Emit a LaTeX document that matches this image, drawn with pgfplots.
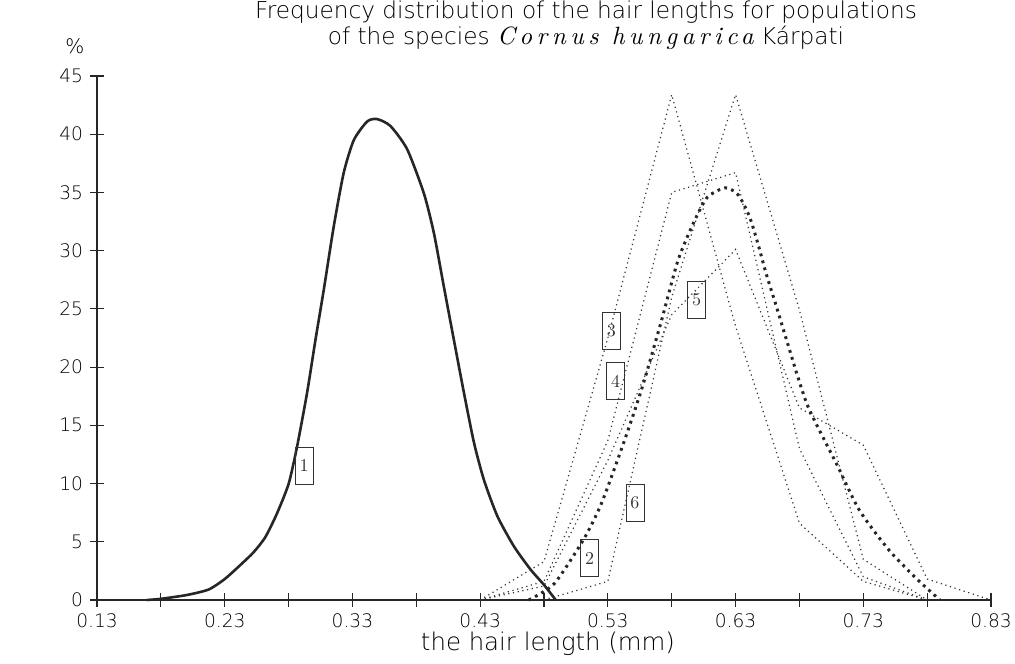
\documentclass[border=0pt]{standalone}
\usepackage{fontspec}
\setmainfont{DejaVu Sans}
\newfontfamily\thin{DejaVu Sans ExtraLight}
\newfontfamily\lmrm{lmroman10-regular.otf}
\newfontfamily\lmit{lmroman10-italic.otf}[LetterSpace=18]
\usepackage{pgfplots}
\pgfplotsset{compat=1.18}
\begin{document}
\begin{tikzpicture}
\begin{axis}[name=ax, scale only axis, width=447pt, height=262pt,
  xmin=0.13, xmax=0.83, ymin=0, ymax=45,
  axis lines*=left,
  axis line style={line width=0.75pt, draw=black!85},
  tick style={line width=0.6pt, draw=black!85},
  tick align=center, major tick length=7pt, minor tick length=7pt,
  xtick={0.13,0.23,0.33,0.43,0.53,0.63,0.73,0.83},
  minor xtick={0.18,0.28,0.38,0.48,0.58,0.68,0.78},
  xticklabels={0.13,0.23,0.33,0.43,0.53,0.63,0.73,0.83},
  ytick={0,5,10,15,20,25,30,35,40,45},
  /pgf/number format/assume math mode=true,
  tick label style={font=\thin\fontsize{9.3}{10}\selectfont, text=black},
  clip=false]
% 1: solid
\addplot[line width=1.3pt, black!85, smooth, tension=0.4] coordinates {
 (0.169,0) (0.18,0.1) (0.2004,0.43) (0.2174,0.9) (0.23,1.8) (0.2422,3.0)
 (0.2526,4.1) (0.2618,5.4) (0.271,7.45) (0.2801,10.0) (0.2867,13.2)
 (0.2945,17.8) (0.301,22.3) (0.3075,26.6) (0.3154,32.1) (0.3232,36.7)
 (0.3311,39.5) (0.3416,41.1) (0.3494,41.3) (0.3598,40.7) (0.3729,38.7)
 (0.386,34.9) (0.3938,31.5) (0.4016,26.9) (0.4095,22.3) (0.4173,17.8)
 (0.4252,13.5) (0.433,10.3) (0.4435,7.2) (0.4565,4.6) (0.4696,2.6)
 (0.48,1.3) (0.4892,0)};
% 2: thick dotted
\addplot[line width=1.5pt, black!85, dash pattern=on 1.4pt off 2.2pt, smooth, tension=0.4] coordinates {
 (0.468,0) (0.488,1.4) (0.511,5.2) (0.525,8.3) (0.543,13.7) (0.557,18.3)
 (0.572,24) (0.585,29.2) (0.598,32.6) (0.608,34.6) (0.622,35.4) (0.632,34.8)
 (0.641,32.9) (0.648,30.4) (0.654,28) (0.662,25.2) (0.67,22.3) (0.686,16.8)
 (0.709,11.7) (0.727,7.7) (0.75,4.3) (0.772,1.8) (0.79,0)};
% 3
\addplot[line width=0.6pt, black!80, dash pattern=on 0.6pt off 1.8pt] coordinates {
 (0.43,0) (0.48,3.3) (0.53,22.5) (0.58,43.4) (0.63,23.5) (0.68,6.6) (0.73,1.6) (0.78,0)};
% 4
\addplot[line width=0.6pt, black!80, dash pattern=on 0.6pt off 1.8pt] coordinates {
 (0.43,0) (0.48,1.6) (0.53,13.7) (0.58,35) (0.63,36.7) (0.68,13) (0.73,2) (0.78,0)};
% 5
\addplot[line width=0.6pt, black!80, dash pattern=on 0.6pt off 1.8pt] coordinates {
 (0.43,0) (0.48,1.2) (0.53,12) (0.58,24.5) (0.63,30.1) (0.68,16.5) (0.73,13.3) (0.78,1.8) (0.83,0)};
% 6
\addplot[line width=0.6pt, black!80, dash pattern=on 0.6pt off 1.8pt] coordinates {
 (0.48,0) (0.53,1.6) (0.58,26) (0.63,43.4) (0.68,24.9) (0.73,3.5) (0.78,0)};
% boxed labels
\tikzset{lab/.style={draw=black!80, line width=0.4pt, minimum width=9pt, minimum height=18.5pt, inner sep=0pt, fill=none, font=\lmrm\fontsize{9}{9}\selectfont, text=black!80}}
\node[lab] at (axis cs:0.2922,11.55) {1};
\node[lab] at (axis cs:0.5158,3.6) {2};
\node[lab] at (axis cs:0.5327,23.1) {3};
\node[lab] at (axis cs:0.536,18.8) {4};
\node[lab] at (axis cs:0.5995,25.8) {5};
\node[lab] at (axis cs:0.5512,8.34) {6};
% titles
\node[anchor=base, font=\thin\fontsize{11.6}{12}\selectfont, text=black] at ([shift={(21pt,28.5pt)}]rel axis cs:0.5,1) {Frequency distribution of the hair lengths for populations};
\node[anchor=base, font=\thin\fontsize{11.6}{12}\selectfont, text=black] at ([shift={(21pt,15.5pt)}]rel axis cs:0.5,1) {of the species {\lmit\fontsize{12.5}{12}\selectfont Cornus hungarica} Kárpati};
\node[anchor=base, font=\thin\fontsize{10}{12}\selectfont, text=black] at ([shift={(-11pt,11pt)}]rel axis cs:0,1) {\%};
\node[anchor=base, font=\thin\fontsize{12.2}{12}\selectfont, text=black] at ([shift={(2pt,-25pt)}]rel axis cs:0.5,0) {the hair length (mm)};
\end{axis}
\pgfresetboundingbox
\path[use as bounding box] ([shift={(-48.5pt,-31.5pt)}]ax.south west) rectangle ([shift={(12pt,38pt)}]ax.north east);
\end{tikzpicture}
\end{document}
